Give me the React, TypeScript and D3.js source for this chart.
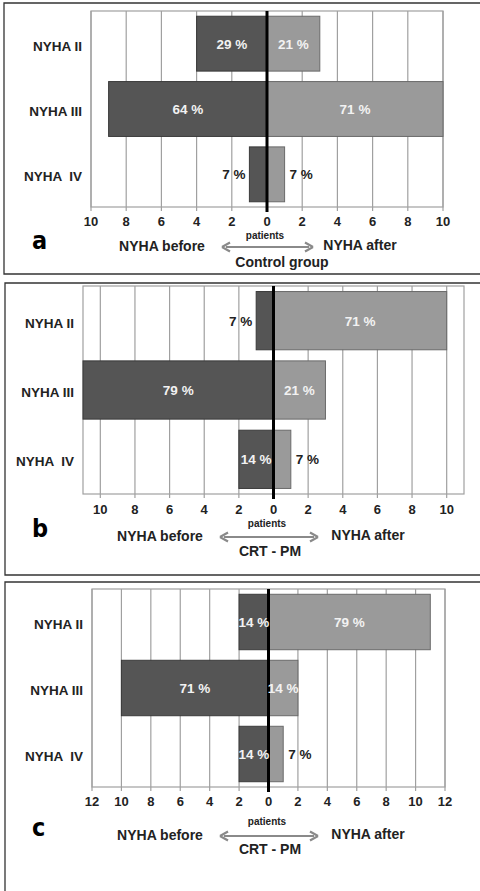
import React, { useEffect, useRef } from 'react';
import * as d3 from 'd3';

// NYHA classes, top to bottom
const categories = ['NYHA II', 'NYHA III', 'NYHA  IV'];

// patients per class (14 per group)
const controlBefore = [4, 9, 1];
const controlAfter = [3, 10, 1];
const controlBeforePct = ['29 %', '64 %', '7 %'];
const controlAfterPct = ['21 %', '71 %', '7 %'];

const crtBBefore = [1, 11, 2];
const crtBAfter = [10, 3, 1];
const crtBBeforePct = ['7 %', '79 %', '14 %'];
const crtBAfterPct = ['71 %', '21 %', '7 %'];

const crtCBefore = [2, 10, 2];
const crtCAfter = [11, 2, 1];
const crtCBeforePct = ['14 %', '71 %', '14 %'];
const crtCAfterPct = ['79 %', '14 %', '7 %'];

const ticksAB = [-10, -8, -6, -4, -2, 0, 2, 4, 6, 8, 10];
const ticksC = [-12, -10, -8, -6, -4, -2, 0, 2, 4, 6, 8, 10, 12];

const FONT = 'Liberation Sans, Arial, sans-serif';
const DARK = '#555555';
const LIGHT = '#9a9a9a';

interface PanelCfg {
    letter: string;
    subtitle: string;
    before: number[];
    after: number[];
    beforePct: string[];
    afterPct: string[];
    domain: [number, number];
    ticks: number[];
    box: { left: number; top: number; bottom: number };
    plot: { x0: number; x1: number; y0: number; y1: number };
    rows: { tick: number; patients: number; nyha: number; sub: number; letter: number };
    cols: { before: number; after: number; arrow0: number; arrow1: number; patients: number; sub: number };
}

const panels: PanelCfg[] = [
    {
        letter: 'a', subtitle: 'Control group',
        before: controlBefore, after: controlAfter, beforePct: controlBeforePct, afterPct: controlAfterPct,
        domain: [-10, 10], ticks: ticksAB,
        box: { left: 4, top: 3, bottom: 274 },
        plot: { x0: 91, x1: 443, y0: 11, y1: 207 },
        rows: { tick: 221, patients: 235, nyha: 246, sub: 262, letter: 240 },
        cols: { before: 162, after: 360, arrow0: 222, arrow1: 313, patients: 265, sub: 282 },
    },
    {
        letter: 'b', subtitle: 'CRT - PM',
        before: crtBBefore, after: crtBAfter, beforePct: crtBBeforePct, afterPct: crtBAfterPct,
        domain: [-11, 11], ticks: ticksAB,
        box: { left: 5, top: 283, bottom: 575 },
        plot: { x0: 83, x1: 464, y0: 286, y1: 494 },
        rows: { tick: 509, patients: 523, nyha: 536, sub: 551, letter: 528 },
        cols: { before: 160, after: 368, arrow0: 220, arrow1: 318, patients: 267, sub: 270 },
    },
    {
        letter: 'c', subtitle: 'CRT - PM',
        before: crtCBefore, after: crtCAfter, beforePct: crtCBeforePct, afterPct: crtCAfterPct,
        domain: [-12, 12], ticks: ticksC,
        box: { left: 5, top: 582, bottom: 900 },
        plot: { x0: 92, x1: 445, y0: 589, y1: 787 },
        rows: { tick: 801, patients: 821, nyha: 835, sub: 849, letter: 827 },
        cols: { before: 160, after: 368, arrow0: 220, arrow1: 318, patients: 267, sub: 270 },
    },
];

function drawPanel(svg: d3.Selection<SVGSVGElement, unknown, null, undefined>, p: PanelCfg) {
    const g = svg.append('g');

    // outer frame (open on the right, runs off the page)
    g.append('path')
        .attr('d', `M490,${p.box.top}H${p.box.left}V${p.box.bottom}H490`)
        .attr('fill', 'none')
        .attr('stroke', '#333')
        .attr('stroke-width', 1.3);

    const x = d3.scaleLinear().domain(p.domain).range([p.plot.x0, p.plot.x1]);
    const y = d3.scaleBand<string>()
        .domain(categories)
        .range([p.plot.y0, p.plot.y1])
        .paddingInner(0.16)
        .paddingOuter(0.08);

    // plot frame
    g.append('rect')
        .attr('x', p.plot.x0)
        .attr('y', p.plot.y0)
        .attr('width', p.plot.x1 - p.plot.x0)
        .attr('height', p.plot.y1 - p.plot.y0)
        .attr('fill', '#fff')
        .attr('stroke', '#a0a0a0')
        .attr('stroke-width', 1.2);

    // vertical gridlines
    g.selectAll('.grid')
        .data(p.ticks)
        .enter()
        .append('line')
        .attr('x1', (d) => x(d))
        .attr('x2', (d) => x(d))
        .attr('y1', p.plot.y0)
        .attr('y2', p.plot.y1 + 4)
        .attr('stroke', '#a0a0a0')
        .attr('stroke-width', 1.2);

    const x0 = x(0);
    const bh = y.bandwidth();

    // before bars (left)
    g.selectAll('.before')
        .data(p.before)
        .enter()
        .append('rect')
        .attr('x', (d) => x(-d))
        .attr('y', (_, i) => y(categories[i]) as number)
        .attr('width', (d) => x0 - x(-d))
        .attr('height', bh)
        .attr('fill', DARK)
        .attr('stroke', '#3a3a3a')
        .attr('stroke-width', 1);

    // after bars (right)
    g.selectAll('.after')
        .data(p.after)
        .enter()
        .append('rect')
        .attr('x', x0)
        .attr('y', (_, i) => y(categories[i]) as number)
        .attr('width', (d) => x(d) - x0)
        .attr('height', bh)
        .attr('fill', LIGHT)
        .attr('stroke', '#6a6a6a')
        .attr('stroke-width', 1);

    // zero line
    g.append('line')
        .attr('x1', x0)
        .attr('x2', x0)
        .attr('y1', p.plot.y0)
        .attr('y2', p.plot.y1 + 5)
        .attr('stroke', '#000')
        .attr('stroke-width', 3);

    const midY = (i: number) => (y(categories[i]) as number) + bh / 2;

    // bar labels: inside (white) for bigger bars, outside (dark) for single patient
    p.before.forEach((v, i) => {
        const inside = v >= 2;
        g.append('text')
            .attr('x', inside ? (x(-v) + x0) / 2 : x(-v) - 4)
            .attr('y', midY(i))
            .attr('dy', '0.36em')
            .attr('text-anchor', inside ? 'middle' : 'end')
            .attr('fill', inside ? '#f2f2f2' : '#222')
            .attr('font-family', FONT)
            .attr('font-weight', 'bold')
            .attr('font-size', 13.5)
            .text(p.beforePct[i]);
    });
    p.after.forEach((v, i) => {
        const inside = v >= 2;
        g.append('text')
            .attr('x', inside ? (x(v) + x0) / 2 : x(v) + 5)
            .attr('y', midY(i))
            .attr('dy', '0.36em')
            .attr('text-anchor', inside ? 'middle' : 'start')
            .attr('fill', inside ? '#f2f2f2' : '#222')
            .attr('font-family', FONT)
            .attr('font-weight', 'bold')
            .attr('font-size', 13.5)
            .text(p.afterPct[i]);
    });

    // category labels
    g.selectAll('.cat')
        .data(categories)
        .enter()
        .append('text')
        .attr('x', p.plot.x0 - 9)
        .attr('y', (_, i) => midY(i) + 2)
        .attr('dy', '0.36em')
        .attr('text-anchor', 'end')
        .attr('fill', '#222')
        .attr('font-family', FONT)
        .attr('font-weight', 'bold')
        .attr('font-size', 13.5)
        .style('white-space', 'pre')
        .text((d) => d);

    // tick labels (absolute values)
    g.selectAll('.tick')
        .data(p.ticks)
        .enter()
        .append('text')
        .attr('x', (d) => x(d))
        .attr('y', p.rows.tick)
        .attr('dy', '0.36em')
        .attr('text-anchor', 'middle')
        .attr('fill', '#222')
        .attr('font-family', FONT)
        .attr('font-weight', 'bold')
        .attr('font-size', 13)
        .text((d) => String(Math.abs(d)));

    const label = (tx: number, ty: number, t: string, size: number) =>
        g.append('text')
            .attr('x', tx)
            .attr('y', ty)
            .attr('dy', '0.36em')
            .attr('text-anchor', 'middle')
            .attr('fill', '#222')
            .attr('font-family', FONT)
            .attr('font-weight', 'bold')
            .attr('font-size', size)
            .text(t);

    label(p.cols.patients, p.rows.patients, 'patients', 10);
    label(p.cols.before, p.rows.nyha, 'NYHA before', 14);
    label(p.cols.after, p.rows.nyha - 1, 'NYHA after', 14);
    label(p.cols.sub, p.rows.sub, p.subtitle, 14);

    // double-headed arrow
    const ay = p.rows.nyha + 1;
    g.append('line')
        .attr('x1', p.cols.arrow0 + 4)
        .attr('x2', p.cols.arrow1 - 4)
        .attr('y1', ay)
        .attr('y2', ay)
        .attr('stroke', '#8a8a8a')
        .attr('stroke-width', 2.2);
    g.append('path')
        .attr('d', `M${p.cols.arrow0},${ay} l8,-4.5 M${p.cols.arrow0},${ay} l8,4.5 M${p.cols.arrow1},${ay} l-8,-4.5 M${p.cols.arrow1},${ay} l-8,4.5`)
        .attr('stroke', '#8a8a8a')
        .attr('stroke-width', 2.2)
        .attr('fill', 'none');

    // panel letter
    g.append('text')
        .attr('x', 32)
        .attr('y', p.rows.letter)
        .attr('dy', '0.36em')
        .attr('fill', '#000')
        .attr('font-family', 'DejaVu Sans Condensed, Liberation Sans Narrow, sans-serif')
        .attr('font-stretch', 'condensed')
        .attr('font-weight', 'bold')
        .attr('font-size', 25)
        .text(p.letter);
}

const App: React.FC = () => {
    const svgRef = useRef<SVGSVGElement | null>(null);

    useEffect(() => {
        if (!svgRef.current) return;
        const svg = d3.select(svgRef.current);
        svg.selectAll('*').remove();
        panels.forEach((p) => drawPanel(svg, p));
    }, []);

    return (
        <svg
            ref={svgRef}
            width={480}
            height={891}
            style={{ position: 'absolute', left: 0, top: 0, background: '#fff' }}
        />
    );
};

export default App;
